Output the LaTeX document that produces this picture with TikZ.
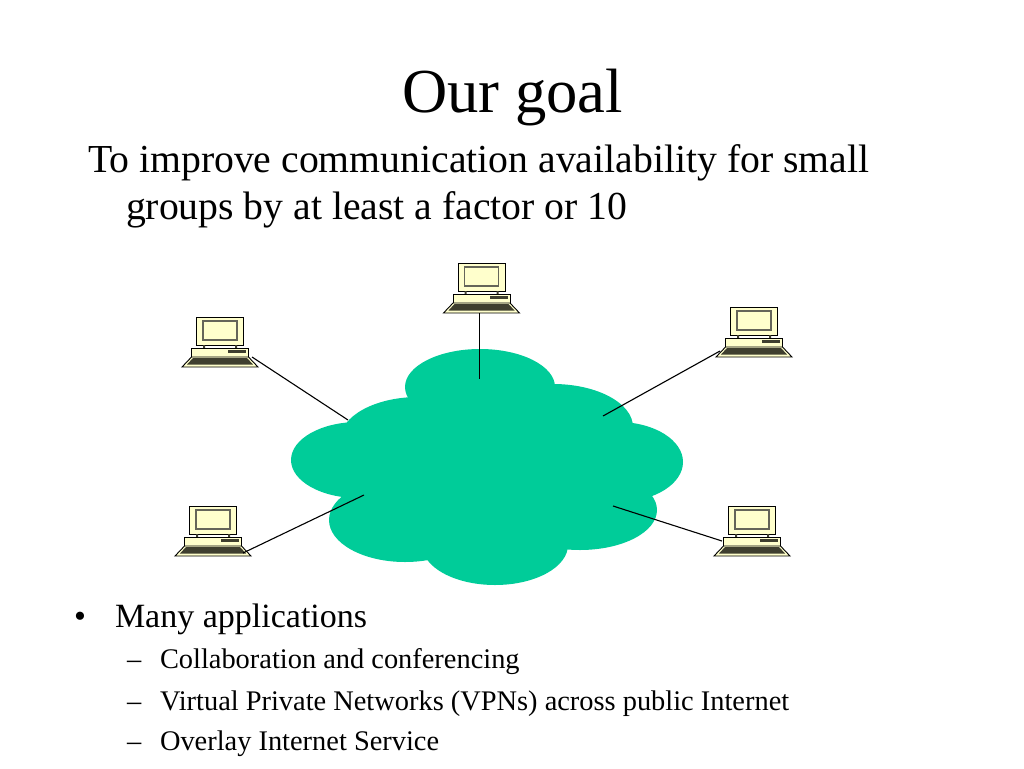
\documentclass[tikz,border=0pt]{standalone}
\usepackage{fontspec}
\setmainfont{Liberation Serif}
\definecolor{cloudc}{HTML}{00CC99}
\definecolor{pcc}{HTML}{FFFFCC}
\definecolor{pcd}{HTML}{3F3F2F}
\tikzset{
  txt/.style={anchor=base west,inner sep=0pt,outer sep=0pt},
  lobe/.style={fill=cloudc,draw=none},
  link/.style={draw=black,line width=1.1pt},
  pcline/.style={draw=black,line width=0.9pt},
  computer/.pic={
    \fill[pcc,pcline] (-23.5,0) rectangle (23.5,28);
    \fill[pcc,draw=pcd!80,line width=1.2pt] (-17,4) rectangle (17,23);
    \fill[pcd] (-17,28) rectangle (-15,31) (15,28) rectangle (17,31);
    \fill[pcc,pcline] (-28.5,31) rectangle (28.5,40);
    \fill[pcd] (8,33) rectangle (26,35.5);
    \fill[pcc,pcline] (-28.5,40) -- (28.5,40) -- (38,50) -- (-38,50) -- cycle;
    \fill[pcd] (-27,41) -- (27,41) -- (33,47.5) -- (-33,47.5) -- cycle;
  }
}
\begin{document}
\begin{tikzpicture}[x=1pt,y=-1pt]
\useasboundingbox (0,0) rectangle (1024,768);
% cloud
\fill[lobe] (480,387) ellipse [x radius=75,y radius=38];
\fill[lobe] (553,427) ellipse [x radius=80,y radius=43];
\fill[lobe] (618,462) ellipse [x radius=65,y radius=40];
\fill[lobe] (580,510) ellipse [x radius=77,y radius=40];
\fill[lobe] (495,545) ellipse [x radius=73,y radius=40];
\fill[lobe] (405,520) ellipse [x radius=76,y radius=42];
\fill[lobe] (358,460) ellipse [x radius=67,y radius=38];
\fill[lobe] (418,440) ellipse [x radius=78,y radius=43];
\fill[lobe] (480,470) ellipse [x radius=120,y radius=80];
% computers
\pic at (481.5,263) {computer};
\pic at (220,317) {computer};
\pic at (754,307) {computer};
\pic at (213,506) {computer};
\pic at (752,506) {computer};
% connector ends
\coordinate (pcTop) at (479.5,313);
\coordinate (cloudTop) at (479.5,379);
\coordinate (pcUL) at (252,357);
\coordinate (cloudUL) at (348,420);
\coordinate (pcUR) at (720,351);
\coordinate (cloudUR) at (603,416);
\coordinate (pcLL) at (243,553);
\coordinate (cloudLL) at (364,495);
\coordinate (pcLR) at (722,541);
\coordinate (cloudLR) at (613,506);
\draw[link] (pcTop) -- (cloudTop);
\draw[link] (pcUL) -- (cloudUL);
\draw[link] (pcUR) -- (cloudUR);
\draw[link] (pcLL) -- (cloudLL);
\draw[link] (pcLR) -- (cloudLR);
% text
\node[txt,font=\fontsize{62.6}{62.6}\selectfont] (title) at (402,112) {Our goal};
\node[txt,font=\fontsize{39.7}{39.7}\selectfont] (l1) at (88,172) {To improve communication availability for small};
\node[txt,font=\fontsize{39.7}{39.7}\selectfont] (l2) at (126,219) {groups by at least a factor or 10};
\node[txt,font=\fontsize{34}{34}\selectfont] (b0) at (74,627) {•};
\node[txt,font=\fontsize{34}{34}\selectfont] (b1) at (115,627) {Many applications};
\node[txt,font=\fontsize{28.4}{28.4}\selectfont] (d1) at (127,668) {–};
\node[txt,font=\fontsize{28.4}{28.4}\selectfont] (s1) at (160,668) {Collaboration and conferencing};
\node[txt,font=\fontsize{28.4}{28.4}\selectfont] (d2) at (127,710) {–};
\node[txt,font=\fontsize{28.4}{28.4}\selectfont] (s2) at (160,710) {Virtual Private Networks (VPNs) across public Internet};
\node[txt,font=\fontsize{28.4}{28.4}\selectfont] (d3) at (127,750) {–};
\node[txt,font=\fontsize{28.4}{28.4}\selectfont] (s3) at (160,750) {Overlay Internet Service};
\end{tikzpicture}
\end{document}
